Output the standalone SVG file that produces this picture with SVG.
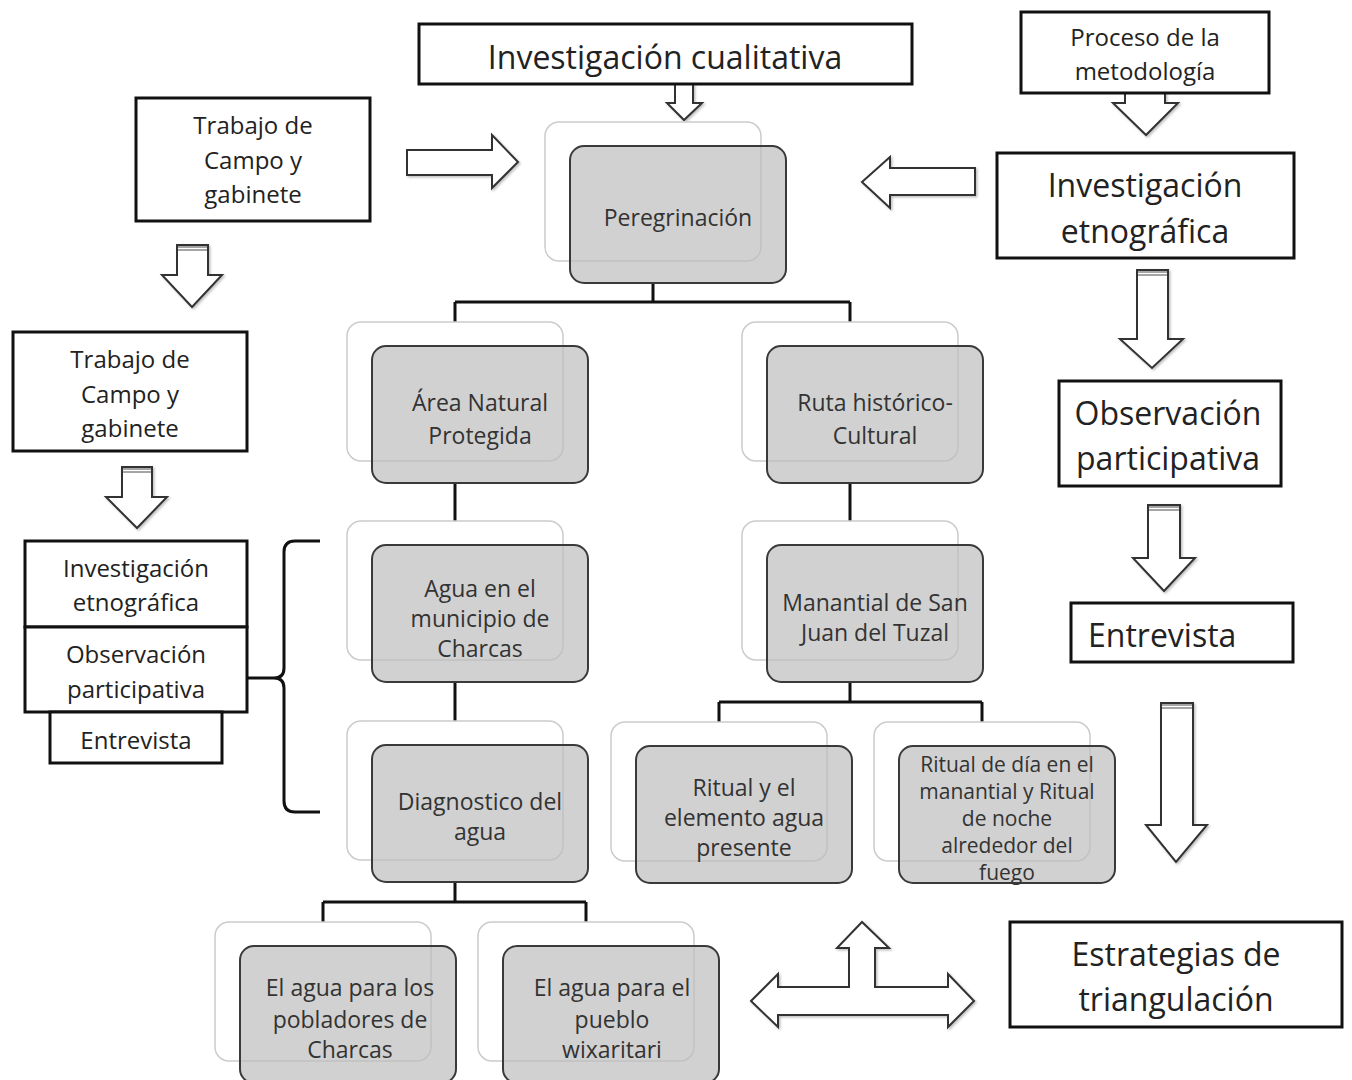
<svg xmlns="http://www.w3.org/2000/svg" width="1352" height="1080" viewBox="0 0 1352 1080">
<style>
text{font-family:"Open Sans","Liberation Sans",sans-serif;fill:#222;text-anchor:middle}
.box{fill:#fff;stroke:#111;stroke-width:3}
.arrow{fill:#fff;stroke:#333;stroke-width:2;stroke-linejoin:miter}
.back{fill:#fff;fill-opacity:0.9;stroke:#ccc;stroke-width:1.5}
.front{fill:#bdbdbd;fill-opacity:0.7;stroke:#3a3a3a;stroke-width:2}
.conn{fill:none;stroke:#111;stroke-width:3}
.cap{stroke:#888;stroke-width:1.5}
.t30{font-size:32px}
.t23{font-size:24px}
.t22{font-size:24px}
.nt{font-size:23px;fill:#333}
.st{font-size:21px;fill:#333}
</style>
<defs>
<filter id="sh" x="-10%" y="-10%" width="130%" height="130%">
<feDropShadow dx="1.5" dy="1.5" stdDeviation="1.2" flood-color="#000" flood-opacity="0.25"/>
</filter>
</defs>
<rect width="1352" height="1080" fill="#fff"/>

<g id="connectors">
<path class="conn" d="M653,283 V302 M455,302 H850 M455,302 V322 M850,302 V322"/>
<path class="conn" d="M455,483 V521"/>
<path class="conn" d="M850,483 V521"/>
<path class="conn" d="M455,682 V721"/>
<path class="conn" d="M850,682 V702 M719,702 H982 M719,702 V722 M982,702 V722"/>
<path class="conn" d="M455,882 V902 M323,902 H586 M323,902 V922 M586,902 V922"/>
<path class="conn" d="M247,678 H274 M320,541 H295 Q284,541 284,552 V668 Q284,678 274,678 Q284,678 284,688 V801 Q284,812 295,812 H320"/>
<g filter="url(#sh)">
<polygon class="arrow" points="675,84 675,103 667,103 684,120 702,103 693,103 693,84"/>
<polygon class="arrow" points="1125,93 1125,103 1113,103 1146,135 1178,103 1165,103 1165,93"/>
<polygon class="arrow" points="975,168 890,168 890,157 862,182 890,208 890,195 975,195"/>
<polygon class="arrow" points="407,150 492,150 492,135 518,162 492,188 492,175 407,175"/>
<polygon class="arrow" points="177,245 177,275 162,275 192,307 222,275 208,275 208,245"/>
<polygon class="arrow" points="122,467 122,497 106,497 137,528 167,497 152,497 152,467"/>
<polygon class="arrow" points="1137,270 1137,339 1120,339 1152,368 1183,339 1168,339 1168,270"/>
<polygon class="arrow" points="1148,505 1148,558 1133,558 1164,591 1195,558 1180,558 1180,505"/>
<polygon class="arrow" points="1161,703 1161,825 1146,825 1176,862 1207,825 1193,825 1193,703"/>
<polygon class="arrow" points="751,1001 778,974 778,987 849,987 849,948 837,948 862,922 889,948 875,948 875,987 948,987 948,974 974,1001 948,1027 948,1015 778,1015 778,1027"/>
</g>
<path class="cap" d="M178,247 H207 M178,250 H207 M123,469 H151 M123,472 H151 M1138,272 H1167 M1138,275 H1167 M1149,507 H1179 M1149,510 H1179 M1162,705 H1192 M1162,708 H1192"/>
</g>

<g id="n-cualitativa"><rect class="box" x="419" y="24" width="493" height="60"/><text class="t30" x="665" y="69">Investigación cualitativa</text></g>
<g id="n-proceso"><rect class="box" x="1021" y="12" width="248" height="81"/><text class="t22" x="1145" y="46">Proceso de la</text><text class="t22" x="1145" y="80">metodología</text></g>
<g id="n-etno-r"><rect class="box" x="997" y="153" width="297" height="105"/><text class="t30" x="1145" y="197">Investigación</text><text class="t30" x="1145" y="243">etnográfica</text></g>
<g id="n-trabajo1"><rect class="box" x="136" y="98" width="234" height="123"/><text class="t23" x="253" y="134">Trabajo de</text><text class="t23" x="253" y="169">Campo y</text><text class="t23" x="253" y="203">gabinete</text></g>
<g id="n-trabajo2"><rect class="box" x="13" y="332" width="234" height="119"/><text class="t23" x="130" y="368">Trabajo de</text><text class="t23" x="130" y="403">Campo y</text><text class="t23" x="130" y="437">gabinete</text></g>
<g id="n-etno-l"><rect class="box" x="25" y="541" width="222" height="86"/><text class="t22" x="136" y="577">Investigación</text><text class="t22" x="136" y="611">etnográfica</text></g>
<g id="n-obs-l"><rect class="box" x="25" y="627" width="222" height="85"/><text class="t22" x="136" y="663">Observación</text><text class="t22" x="136" y="698">participativa</text></g>
<g id="n-entre-l"><rect class="box" x="50" y="712" width="172" height="51"/><text class="t22" x="136" y="749">Entrevista</text></g>
<g id="n-obs-r"><rect class="box" x="1059" y="381" width="222" height="105"/><text class="t30" x="1168" y="425">Observación</text><text class="t30" x="1168" y="470">participativa</text></g>
<g id="n-entre-r"><rect class="box" x="1071" y="603" width="222" height="59"/><text class="t30" x="1088" y="647" style="text-anchor:start">Entrevista</text></g>
<g id="n-estrategias"><rect class="box" x="1010" y="922" width="332" height="105"/><text class="t30" x="1176" y="966">Estrategias de</text><text class="t30" x="1176" y="1011">triangulación</text></g>

<g id="n-peregrinacion"><rect class="back" x="545" y="122" width="216" height="139" rx="14"/><rect class="front" x="570" y="146" width="216" height="137" rx="14"/><text class="nt" x="678" y="226">Peregrinación</text></g>
<g id="n-area"><rect class="back" x="347" y="322" width="216" height="139" rx="14"/><rect class="front" x="372" y="346" width="216" height="137" rx="14"/><text class="nt" x="480" y="411">Área Natural</text><text class="nt" x="480" y="444">Protegida</text></g>
<g id="n-ruta"><rect class="back" x="742" y="322" width="216" height="139" rx="14"/><rect class="front" x="767" y="346" width="216" height="137" rx="14"/><text class="nt" x="875" y="411">Ruta histórico-</text><text class="nt" x="875" y="444">Cultural</text></g>
<g id="n-agua"><rect class="back" x="347" y="521" width="216" height="139" rx="14"/><rect class="front" x="372" y="545" width="216" height="137" rx="14"/><text class="nt" x="480" y="597">Agua en el</text><text class="nt" x="480" y="627">municipio de</text><text class="nt" x="480" y="657">Charcas</text></g>
<g id="n-manantial"><rect class="back" x="742" y="521" width="216" height="139" rx="14"/><rect class="front" x="767" y="545" width="216" height="137" rx="14"/><text class="nt" x="875" y="611">Manantial de San</text><text class="nt" x="875" y="641">Juan del Tuzal</text></g>
<g id="n-diagnostico"><rect class="back" x="347" y="721" width="216" height="139" rx="14"/><rect class="front" x="372" y="745" width="216" height="137" rx="14"/><text class="nt" x="480" y="810">Diagnostico del</text><text class="nt" x="480" y="840">agua</text></g>
<g id="n-ritual1"><rect class="back" x="611" y="722" width="216" height="139" rx="14"/><rect class="front" x="636" y="746" width="216" height="137" rx="14"/><text class="nt" x="744" y="796">Ritual y el</text><text class="nt" x="744" y="826">elemento agua</text><text class="nt" x="744" y="856">presente</text></g>
<g id="n-ritual2"><rect class="back" x="874" y="722" width="216" height="139" rx="14"/><rect class="front" x="899" y="746" width="216" height="137" rx="14"/><text class="st" x="1007" y="772">Ritual de día en el</text><text class="st" x="1007" y="799">manantial  y Ritual</text><text class="st" x="1007" y="826">de noche</text><text class="st" x="1007" y="853">alrededor del</text><text class="st" x="1007" y="880">fuego</text></g>
<g id="n-pobladores"><rect class="back" x="215" y="922" width="216" height="139" rx="14"/><rect class="front" x="240" y="946" width="216" height="137" rx="14"/><text class="nt" x="350" y="996">El agua para los</text><text class="nt" x="350" y="1028">pobladores de</text><text class="nt" x="350" y="1058">Charcas</text></g>
<g id="n-pueblo"><rect class="back" x="478" y="922" width="216" height="139" rx="14"/><rect class="front" x="503" y="946" width="216" height="137" rx="14"/><text class="nt" x="612" y="996">El agua para el</text><text class="nt" x="612" y="1028">pueblo</text><text class="nt" x="612" y="1058">wixaritari</text></g>
</svg>
